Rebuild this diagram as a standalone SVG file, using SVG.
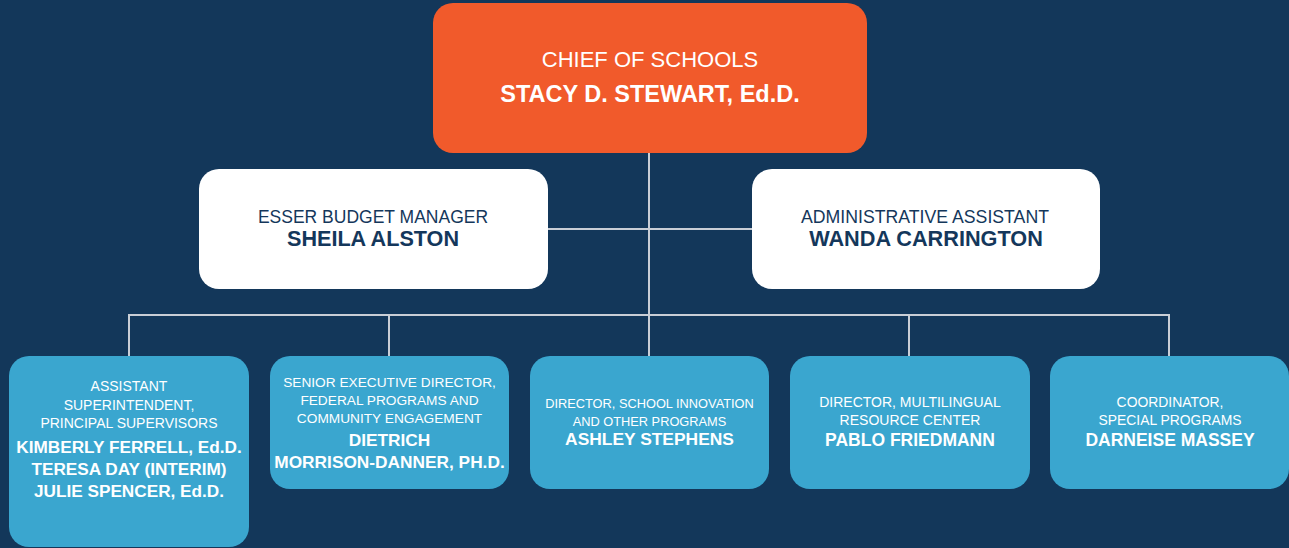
<svg xmlns="http://www.w3.org/2000/svg" width="1289" height="548" viewBox="0 0 1289 548">
<style>
.t{font-family:"Liberation Sans",Arial,sans-serif;text-anchor:middle}
.w{fill:#ffffff}
.n{fill:#14375b}
.b{font-weight:bold}
.ln{stroke:#c9ced6;stroke-width:2;fill:none}
.blue{fill:#3aa6cf}
</style>
<rect width="1289" height="548" fill="#13375a"/>
<g id="connectors">
<path class="ln" d="M649 153V315M548 229H752M129 356V315H1169V356M389 315V356M649 315V356M909 315V356"/>
</g>
<g id="chief">
<rect x="433" y="3" width="434" height="150" rx="20" fill="#f15a2b"/>
<text class="t w" x="650" y="67" font-size="22">CHIEF OF SCHOOLS</text>
<text class="t w b" x="650" y="102" font-size="23.5">STACY D. STEWART, Ed.D.</text>
</g>
<g id="esser">
<rect x="199" y="169" width="349" height="120" rx="20" fill="#ffffff"/>
<text class="t n" x="373" y="223" font-size="17.5">ESSER BUDGET MANAGER</text>
<text class="t n b" x="373" y="246" font-size="21.6">SHEILA ALSTON</text>
</g>
<g id="admin">
<rect x="752" y="169" width="348" height="120" rx="20" fill="#ffffff"/>
<text class="t n" x="925" y="223" font-size="17.7">ADMINISTRATIVE ASSISTANT</text>
<text class="t n b" x="926" y="246" font-size="21.7">WANDA CARRINGTON</text>
</g>
<g id="asst-super">
<rect class="blue" x="9" y="356" width="240" height="191" rx="20"/>
<text class="t w" x="129" y="391" font-size="14">ASSISTANT</text>
<text class="t w" x="129" y="410" font-size="14">SUPERINTENDENT,</text>
<text class="t w" x="129" y="428" font-size="14">PRINCIPAL SUPERVISORS</text>
<text class="t w b" x="129" y="453" font-size="17.2">KIMBERLY FERRELL, Ed.D.</text>
<text class="t w b" x="129" y="475" font-size="17.2">TERESA DAY (INTERIM)</text>
<text class="t w b" x="129" y="497" font-size="17.2">JULIE SPENCER, Ed.D.</text>
</g>
<g id="federal">
<rect class="blue" x="270" y="356" width="239" height="133" rx="20"/>
<text class="t w" x="389.5" y="387" font-size="13.7">SENIOR EXECUTIVE DIRECTOR,</text>
<text class="t w" x="389.5" y="405" font-size="13.7">FEDERAL PROGRAMS AND</text>
<text class="t w" x="389.5" y="423" font-size="13.7">COMMUNITY ENGAGEMENT</text>
<text class="t w b" x="389.5" y="446" font-size="17.3">DIETRICH</text>
<text class="t w b" x="389.5" y="468" font-size="17.3">MORRISON-DANNER, PH.D.</text>
</g>
<g id="innovation">
<rect class="blue" x="530" y="356" width="239" height="133" rx="20"/>
<text class="t w" x="649.5" y="408" font-size="12.8">DIRECTOR, SCHOOL INNOVATION</text>
<text class="t w" x="649.5" y="426" font-size="12.8">AND OTHER PROGRAMS</text>
<text class="t w b" x="649.5" y="445" font-size="17.4">ASHLEY STEPHENS</text>
</g>
<g id="multilingual">
<rect class="blue" x="790" y="356" width="240" height="133" rx="20"/>
<text class="t w" x="910" y="407" font-size="14">DIRECTOR, MULTILINGUAL</text>
<text class="t w" x="910" y="425" font-size="14">RESOURCE CENTER</text>
<text class="t w b" x="910" y="446" font-size="17.5">PABLO FRIEDMANN</text>
</g>
<g id="special">
<rect class="blue" x="1050" y="356" width="239" height="133" rx="20"/>
<text class="t w" x="1170" y="407" font-size="13.9">COORDINATOR,</text>
<text class="t w" x="1170" y="425" font-size="13.9">SPECIAL PROGRAMS</text>
<text class="t w b" x="1170" y="446" font-size="17.5">DARNEISE MASSEY</text>
</g>
</svg>
